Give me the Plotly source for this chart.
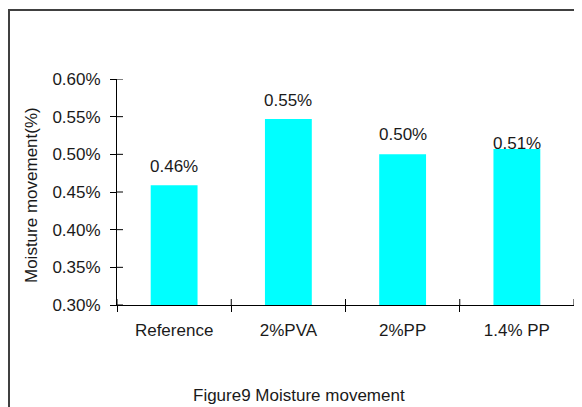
import plotly.graph_objects as go

categories = ["Reference", "2%PVA", "2%PP", "1.4% PP"]
values = [0.459, 0.547, 0.500, 0.507]
value_labels = ["0.46%", "0.55%", "0.50%", "0.51%"]
y_ticks = [0.30, 0.35, 0.40, 0.45, 0.50, 0.55, 0.60]

label_shift = [7, 7, 8, -6]  # style: vertical pixel offset of each data label

FONT = "Liberation Sans, Arial, sans-serif"
TXT = "#1a1a1a"
FS = 17

# The page body has an 8px margin, so the figure is sized/placed to compensate.
PW, PH = 457, 226  # plot area size in px

fig = go.Figure()
fig.add_trace(go.Bar(
    x=categories, y=values, width=0.41,
    marker=dict(color="#00FFFF", line=dict(width=0)),
    hoverinfo="skip",
))

for c, v, t, s in zip(categories, values, value_labels, label_shift):
    fig.add_annotation(x=c, y=v, xref="x", yref="y", text=t, showarrow=False,
                       yanchor="bottom", yshift=s,
                       font=dict(family=FONT, size=FS, color=TXT))

# inner halves of crossing ticks
for v in y_ticks:
    fig.add_shape(type="line", xref="paper", yref="y", x0=0, x1=6 / PW, y0=v, y1=v,
                  line=dict(color="black", width=1))
for i in range(len(categories) + 1):
    fig.add_shape(type="line", xref="x", yref="paper", x0=i - 0.5, x1=i - 0.5,
                  y0=0, y1=6 / PH, line=dict(color="black", width=1))

# outer frame (right and bottom edges fall outside the picture)
fig.add_shape(type="rect", xref="paper", yref="paper",
              x0=(9 - 117) / PW, x1=1.3, y0=-0.7, y1=(305 - 10) / PH,
              line=dict(color="#404040", width=2), fillcolor="rgba(0,0,0,0)")

fig.add_annotation(xref="paper", yref="paper", x=(31 - 117) / PW, y=(305 - 195) / PH,
                   text="Moisture movement(%)", textangle=-90, showarrow=False,
                   xanchor="center", yanchor="middle",
                   font=dict(family=FONT, size=FS, color=TXT))
fig.add_annotation(xref="paper", yref="paper", x=(299 - 117) / PW, y=-(395 - 305) / PH,
                   text="Figure9 Moisture movement", showarrow=False,
                   xanchor="center", yanchor="middle",
                   font=dict(family=FONT, size=FS, color=TXT))

fig.update_layout(
    width=574, height=399,
    margin=dict(l=109, r=8, t=71, b=102),
    paper_bgcolor="white", plot_bgcolor="white",
    showlegend=False,
    font=dict(family=FONT, size=FS, color=TXT),
    xaxis=dict(type="category", categoryorder="array", categoryarray=categories,
               range=[-0.5, len(categories) - 0.5],
               showline=True, linecolor="black", linewidth=1,
               ticks="outside", ticklen=6, tickcolor="black", tickson="boundaries",
               ticklabelstandoff=10, showgrid=False, zeroline=False,
               tickfont=dict(family=FONT, size=FS, color=TXT)),
    yaxis=dict(range=[0.30, 0.60], tickvals=y_ticks,
               ticktext=[f"{v:.2f}%" for v in y_ticks],
               showline=True, linecolor="black", linewidth=1,
               ticks="outside", ticklen=6, tickcolor="black",
               ticklabelstandoff=6, showgrid=False, zeroline=False,
               tickfont=dict(family=FONT, size=FS, color=TXT)),
)

fig.write_html("out.html")
